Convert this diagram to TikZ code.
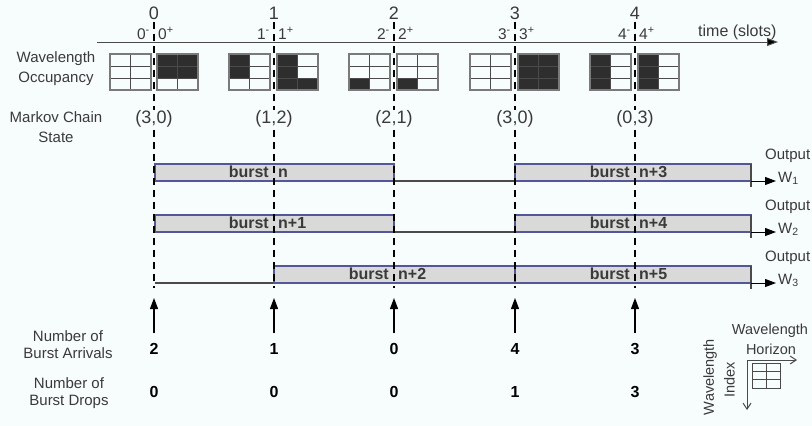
\documentclass[tikz,border=0pt]{standalone}
\usepackage{fontspec}
\setmainfont{Liberation Sans}
\usetikzlibrary{arrows.meta}
\definecolor{bgc}{HTML}{F7FCFD}
\definecolor{boxfill}{HTML}{D9D9D9}
\definecolor{boxline}{HTML}{55559A}
\definecolor{txt}{HTML}{3A3A3A}
\definecolor{cellk}{HTML}{2E2E2E}
\definecolor{gline}{HTML}{4A4A4A}
\definecolor{gborder}{HTML}{7A7A7A}
\newcommand\OccGrid[2]{%
  \foreach \v [count=\i from 0] in {#2} {%
    \pgfmathtruncatemacro\rr{div(\i,2)}%
    \pgfmathtruncatemacro\cc{mod(\i,2)}%
    \ifnum\v=1 \fill[cellk] ({#1+\cc*20.5},{54+\rr*12}) rectangle ++(20.5,12);\fi
  }%
  \draw[gline, line width=1pt] ({#1+20.5},54) -- ({#1+20.5},90) (#1,66) -- ({#1+41},66) (#1,78) -- ({#1+41},78);
  \draw[gborder, line width=1.6pt] (#1,54) rectangle ({#1+41},90);
}
\begin{document}
\begin{tikzpicture}[x=1pt,y=-1pt,
  lbl/.style={font=\fontsize{15}{20}\selectfont, text=txt, align=center, inner sep=0pt},
  lblb/.style={font=\fontsize{15}{17.5}\selectfont, text=txt, align=center, inner sep=0pt},
  slotnum/.style={font=\fontsize{18}{20}\selectfont, text=txt, inner sep=0pt},
  pm/.style={font=\fontsize{15.5}{18}\selectfont, text=txt, inner sep=0pt},
  state/.style={font=\fontsize{18}{20}\selectfont, text=txt, inner sep=0pt},
  bt/.style={font=\fontsize{16}{18}\selectfont\bfseries, text=txt, inner sep=0pt},
  num/.style={font=\fontsize{16}{18}\selectfont\bfseries, text=black, inner sep=0pt},
  outlbl/.style={font=\fontsize{15}{18}\selectfont, text=txt, inner sep=0pt},
  burstbox/.style={draw=boxline, fill=boxfill, line width=1.2pt},
  idle/.style={draw=gline, line width=1.4pt},
  slotline/.style={draw=black, line width=1.2pt, dash pattern=on 7pt off 5pt},
  uparrow/.style={draw=black, line width=1.2pt, -{Triangle[length=11pt,width=8pt]}},
  outarrow/.style={draw=black, line width=1pt, -{Triangle[length=11pt,width=8pt]}},
  axisarrow/.style={draw=gline, line width=1pt, -{Triangle[length=11pt,width=8pt,fill=black]}},
  legarrow/.style={draw=gline, line width=1pt, -{Straight Barb[length=6pt,width=8pt]}},
]
\fill[bgc] (0,0) rectangle (812,426);
\useasboundingbox (0,0) rectangle (812,426);

% time axis
\coordinate (ax0) at (97,42);
\coordinate (ax1) at (778,42);
\draw[axisarrow] (ax0) -- (ax1);
\node[outlbl, anchor=base west, font=\fontsize{16}{18}\selectfont] (timelbl) at (698,36) {time (slots)};

% left labels
\node[lbl] (occlbl) at (56,69) {Wavelength\\Occupancy};
\node[lbl] (mclbl) at (56,127.5) {Markov Chain\\State};
\node[lblb] (arrlbl) at (68,344.5) {Number of\\Burst Arrivals};
\node[lblb] (droplbl) at (69,393) {Number of\\Burst Drops};

% occupancy grids
\OccGrid{110}{0,0,0,0,0,0}
\OccGrid{157}{1,1,1,1,0,0}
\OccGrid{229}{1,0,1,0,0,0}
\OccGrid{277}{1,0,1,0,1,1}
\OccGrid{349}{0,0,0,0,1,0}
\OccGrid{397}{0,0,0,0,1,0}
\OccGrid{470}{0,0,0,0,0,0}
\OccGrid{518}{1,1,1,1,1,1}
\OccGrid{590}{1,0,1,0,1,0}
\OccGrid{638}{1,0,1,0,1,0}

% burst rows
\draw[burstbox] (155,164) rectangle (394,181);
\draw[idle] (394,181) -- (515,181);
\draw[burstbox] (515,164) rectangle (751,181);
\draw[burstbox] (155,215) rectangle (394,232);
\draw[idle] (394,232) -- (515,232);
\draw[burstbox] (515,215) rectangle (751,232);
\draw[idle] (155,283) -- (274,283);
\draw[burstbox] (274,266) rectangle (515,283);
\draw[burstbox] (515,266) rectangle (751,283);
\foreach \yt/\yb in {164/187,215/238,266/289} \draw[gline, line width=1.2pt] (751,\yt) -- (751,\yb);

% burst labels
\foreach \nm/\cx/\yy/\lab in {a/274/177.5/n, b/274/228.5/n+1, c/394/279.5/n+2, d/635/177.5/n+3, e/635/228.5/n+4, f/635/279.5/n+5}{
  \node[bt, anchor=base east] (bw\nm) at (\cx-5,\yy) {burst};
  \node[bt, anchor=base west] (bn\nm) at (\cx+4,\yy) {\lab};
}

% outputs
\foreach \r/\yy in {1/181,2/232,3/283}{
  \coordinate (os\r) at (751,\yy);
  \coordinate (oe\r) at (776,\yy);
  \draw[outarrow] (os\r) -- (oe\r);
  \node[outlbl, anchor=base west] (out\r) at (765,\yy-21.5) {Output};
  \node[outlbl, anchor=base west] (w\r) at (778,\yy+1.5) {W\textsubscript{\r}};
}

% slot lines, labels, states, arrivals
\foreach \k/\xx/\st/\na/\nd in {0/154/{(3,0)}/2/0, 1/274/{(1,2)}/1/0, 2/394/{(2,1)}/0/0, 3/515/{(3,0)}/4/1, 4/635/{(0,3)}/3/3}{
  \node[slotnum] (sn\k) at (\xx,13) {\k};
  \node[pm, anchor=base east] (sm\k) at (\xx-4,39) {\k\textsuperscript{-}};
  \node[pm, anchor=base west] (sp\k) at (\xx+4,39) {\k\textsuperscript{+}};
  \coordinate (top\k) at (\xx,22);
  \coordinate (bot\k) at (\xx,288);
  \draw[slotline] (top\k) -- (bot\k);
  \node[state, fill=bgc, inner sep=1pt] (ms\k) at (\xx,119) {\st};
  \coordinate (ab\k) at (\xx,333);
  \coordinate (at\k) at (\xx,298);
  \draw[uparrow] (ab\k) -- (at\k);
  \node[num] (na\k) at (\xx,349) {\na};
  \node[num] (nd\k) at (\xx,391.5) {\nd};
}

% legend
\node[outlbl, font=\fontsize{14.5}{17}\selectfont] (lgh1) at (770,331) {Wavelength};
\node[outlbl, font=\fontsize{14.5}{17}\selectfont] (lgh2) at (771,349) {Horizon};
\node[outlbl, font=\fontsize{14.5}{17}\selectfont, rotate=90] (lgi1) at (710,377) {Wavelength};
\node[outlbl, font=\fontsize{14.5}{17}\selectfont, rotate=90] (lgi2) at (729.5,380) {Index};
\coordinate (lo) at (747,360);
\coordinate (lx) at (797,360);
\coordinate (ly) at (747,410);
\draw[legarrow] (lo) -- (lx);
\draw[legarrow] (lo) -- (ly);
\draw[gline, line width=1pt] (752,363) rectangle (780,388) (766,363) -- (766,388) (752,371.3) -- (780,371.3) (752,379.7) -- (780,379.7);
\end{tikzpicture}
\end{document}
